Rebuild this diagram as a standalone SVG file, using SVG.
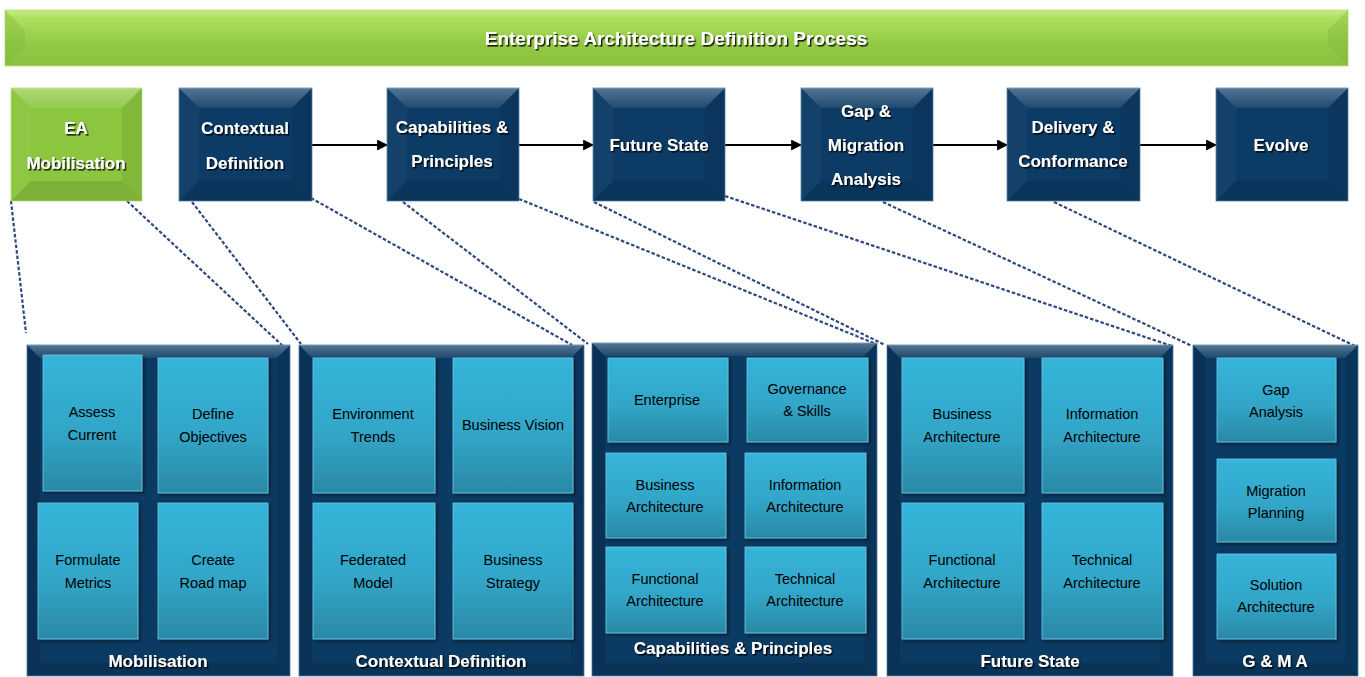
<svg xmlns="http://www.w3.org/2000/svg" width="1365" height="677" viewBox="0 0 1365 677">
<defs>
<linearGradient id="gBar" x1="0" y1="0" x2="0" y2="1">
<stop offset="0" stop-color="#c4ec86"/>
<stop offset="0.15" stop-color="#ace05e"/>
<stop offset="0.6" stop-color="#94c945"/>
<stop offset="1" stop-color="#8bc13f"/>
</linearGradient>
<linearGradient id="gTop" x1="0" y1="0" x2="0" y2="1">
<stop offset="0" stop-color="#ffffff" stop-opacity="0.3"/>
<stop offset="1" stop-color="#ffffff" stop-opacity="0.08"/>
</linearGradient>
<linearGradient id="gTile" x1="0" y1="0" x2="0" y2="1">
<stop offset="0" stop-color="#37b4da"/>
<stop offset="0.55" stop-color="#31a6c8"/>
<stop offset="1" stop-color="#2b89a6"/>
</linearGradient>
<filter id="ts" x="-10%" y="-30%" width="120%" height="160%">
<feDropShadow dx="1.4" dy="1.6" stdDeviation="0.7" flood-color="#000" flood-opacity="0.85"/>
</filter>
<filter id="sh" x="-10%" y="-10%" width="125%" height="125%">
<feDropShadow dx="2" dy="2" stdDeviation="1.5" flood-color="#000" flood-opacity="0.45"/>
</filter>
<marker id="arr" viewBox="0 0 10 10" refX="9" refY="5" markerWidth="5.5" markerHeight="5.5" orient="auto" markerUnits="strokeWidth">
<path d="M0,0 L10,5 L0,10 z" fill="#000"/>
</marker>
</defs>
<style>
.blue{fill:#0c3b65;stroke:#5c86ad;stroke-width:0.8}
.green{fill:#8cc63f;stroke:#b9e27c;stroke-width:0.8}
.bt{fill:url(#gTop)}
.bl{fill:#ffffff;fill-opacity:0.03}
.br{fill:#000000;fill-opacity:0.07}
.bb{fill:#000000;fill-opacity:0.1}
.pl{fill:#000000;fill-opacity:0.12}
.panel{fill:#0b3a62;stroke:#5582ab;stroke-width:0.8}
.tile{fill:url(#gTile);stroke:#6bc9e4;stroke-width:0.8;filter:url(#sh)}
.wt{font-family:"Liberation Sans",Arial,sans-serif;font-weight:bold;fill:#ffffff;text-anchor:middle;filter:url(#ts)}
.tt{font-size:17px}
.pt{font-size:17px}
.it{font-family:"Liberation Sans",Arial,sans-serif;font-size:14.5px;fill:#000000;text-anchor:middle}
.dash{fill:none;stroke:#2e4a7d;stroke-width:2.2;stroke-dasharray:3.5 2}
.arrow{fill:none;stroke:#000;stroke-width:2;marker-end:url(#arr)}
</style>

<g id="title-bar">
<rect x="5" y="10" width="1343" height="56" fill="url(#gBar)" stroke="#b4e070" stroke-width="0.8"/>
<polygon points="5,10 25,30 25,46 5,66" fill="#7fb53a" fill-opacity="0.35"/>
<polygon points="1348,10 1328,30 1328,46 1348,66" fill="#7fb53a" fill-opacity="0.35"/>
<text class="wt" x="676" y="45" font-size="19">Enterprise Architecture Definition Process</text>
</g>

<g id="connectors">
<line class="arrow" x1="312" y1="145" x2="387" y2="145"/>
<line class="arrow" x1="519" y1="145" x2="593" y2="145"/>
<line class="arrow" x1="725" y1="145" x2="801" y2="145"/>
<line class="arrow" x1="933" y1="145" x2="1007" y2="145"/>
<line class="arrow" x1="1140" y1="145" x2="1216" y2="145"/>
<line class="dash" x1="11" y1="201" x2="26" y2="333"/>
<line class="dash" x1="127" y1="201" x2="284" y2="347"/>
<line class="dash" x1="192" y1="202" x2="301" y2="344"/>
<line class="dash" x1="311" y1="198" x2="572" y2="345"/>
<line class="dash" x1="403" y1="202" x2="588" y2="344"/>
<line class="dash" x1="519" y1="199" x2="876" y2="344"/>
<line class="dash" x1="594" y1="202" x2="885" y2="345"/>
<line class="dash" x1="725" y1="196" x2="1172" y2="346"/>
<line class="dash" x1="883" y1="202" x2="1192" y2="346"/>
<line class="dash" x1="1054" y1="202" x2="1355" y2="346"/>
</g>

<g id="ea-mobilisation">
<rect class="green" x="11" y="88" width="131" height="113"/>
<polygon class="bt" points="11,88 142,88 122,108 31,108"/>
<polygon class="bl" points="11,88 31,108 31,181 11,201"/>
<polygon class="br" points="142,88 142,201 122,181 122,108"/>
<polygon class="bb" points="11,201 142,201 122,181 31,181"/>
<text class="wt tt" x="76" y="134">EA</text>
<text class="wt tt" x="76" y="169">Mobilisation</text>
</g>

<g id="contextual-definition">
<rect class="blue" x="179" y="88" width="133" height="113"/>
<polygon class="bt" points="179,88 312,88 292,108 199,108"/>
<polygon class="bl" points="179,88 199,108 199,181 179,201"/>
<polygon class="br" points="312,88 312,201 292,181 292,108"/>
<polygon class="bb" points="179,201 312,201 292,181 199,181"/>
<text class="wt tt" x="245" y="134">Contextual</text>
<text class="wt tt" x="245" y="169">Definition</text>
</g>

<g id="capabilities-principles">
<rect class="blue" x="387" y="88" width="132" height="113"/>
<polygon class="bt" points="387,88 519,88 499,108 407,108"/>
<polygon class="bl" points="387,88 407,108 407,181 387,201"/>
<polygon class="br" points="519,88 519,201 499,181 499,108"/>
<polygon class="bb" points="387,201 519,201 499,181 407,181"/>
<text class="wt tt" x="452" y="133">Capabilities &amp;</text>
<text class="wt tt" x="452" y="167">Principles</text>
</g>

<g id="future-state">
<rect class="blue" x="593" y="88" width="132" height="113"/>
<polygon class="bt" points="593,88 725,88 705,108 613,108"/>
<polygon class="bl" points="593,88 613,108 613,181 593,201"/>
<polygon class="br" points="725,88 725,201 705,181 705,108"/>
<polygon class="bb" points="593,201 725,201 705,181 613,181"/>
<text class="wt tt" x="659" y="151">Future State</text>
</g>

<g id="gap-migration-analysis">
<rect class="blue" x="801" y="88" width="132" height="113"/>
<polygon class="bt" points="801,88 933,88 913,108 821,108"/>
<polygon class="bl" points="801,88 821,108 821,181 801,201"/>
<polygon class="br" points="933,88 933,201 913,181 913,108"/>
<polygon class="bb" points="801,201 933,201 913,181 821,181"/>
<text class="wt tt" x="866" y="117">Gap &amp;</text>
<text class="wt tt" x="866" y="151">Migration</text>
<text class="wt tt" x="866" y="185">Analysis</text>
</g>

<g id="delivery-conformance">
<rect class="blue" x="1007" y="88" width="133" height="113"/>
<polygon class="bt" points="1007,88 1140,88 1120,108 1027,108"/>
<polygon class="bl" points="1007,88 1027,108 1027,181 1007,201"/>
<polygon class="br" points="1140,88 1140,201 1120,181 1120,108"/>
<polygon class="bb" points="1007,201 1140,201 1120,181 1027,181"/>
<text class="wt tt" x="1073" y="133">Delivery &amp;</text>
<text class="wt tt" x="1073" y="167">Conformance</text>
</g>

<g id="evolve">
<rect class="blue" x="1216" y="88" width="132" height="113"/>
<polygon class="bt" points="1216,88 1348,88 1328,108 1236,108"/>
<polygon class="bl" points="1216,88 1236,108 1236,181 1216,201"/>
<polygon class="br" points="1348,88 1348,201 1328,181 1328,108"/>
<polygon class="bb" points="1216,201 1348,201 1328,181 1236,181"/>
<text class="wt tt" x="1281" y="151">Evolve</text>
</g>

<g id="panel-mobilisation">
<rect class="panel" x="27" y="345" width="263" height="331"/>
<polygon class="bt" points="27,345 290,345 277,358 40,358"/>
<polygon class="pl" points="27,345 40,358 40,663 27,676"/>
<polygon class="br" points="290,345 290,676 277,663 277,358"/>
<polygon class="bb" points="27,676 290,676 277,663 40,663"/>
<rect class="tile" x="43" y="355" width="99" height="136"/>
<rect class="tile" x="158" y="358" width="110" height="135"/>
<rect class="tile" x="38" y="503" width="100" height="136"/>
<rect class="tile" x="158" y="503" width="110" height="136"/>
<text class="it" x="92" y="417">Assess</text>
<text class="it" x="92" y="440">Current</text>
<text class="it" x="213" y="419">Define</text>
<text class="it" x="213" y="442">Objectives</text>
<text class="it" x="88" y="565">Formulate</text>
<text class="it" x="88" y="588">Metrics</text>
<text class="it" x="213" y="565">Create</text>
<text class="it" x="213" y="588">Road map</text>
<text class="wt pt" x="158" y="667">Mobilisation</text>
</g>

<g id="panel-contextual-definition">
<rect class="panel" x="299" y="345" width="285" height="331"/>
<polygon class="bt" points="299,345 584,345 571,358 312,358"/>
<polygon class="pl" points="299,345 312,358 312,663 299,676"/>
<polygon class="br" points="584,345 584,676 571,663 571,358"/>
<polygon class="bb" points="299,676 584,676 571,663 312,663"/>
<rect class="tile" x="313" y="358" width="122" height="135"/>
<rect class="tile" x="453" y="358" width="120" height="135"/>
<rect class="tile" x="313" y="503" width="122" height="136"/>
<rect class="tile" x="453" y="503" width="120" height="136"/>
<text class="it" x="373" y="419">Environment</text>
<text class="it" x="373" y="442">Trends</text>
<text class="it" x="513" y="430">Business Vision</text>
<text class="it" x="373" y="565">Federated</text>
<text class="it" x="373" y="588">Model</text>
<text class="it" x="513" y="565">Business</text>
<text class="it" x="513" y="588">Strategy</text>
<text class="wt pt" x="441" y="667">Contextual Definition</text>
</g>

<g id="panel-capabilities-principles">
<rect class="panel" x="592" y="343" width="285" height="333"/>
<polygon class="bt" points="592,343 877,343 864,356 605,356"/>
<polygon class="pl" points="592,343 605,356 605,663 592,676"/>
<polygon class="br" points="877,343 877,676 864,663 864,356"/>
<polygon class="bb" points="592,676 877,676 864,663 605,663"/>
<rect class="tile" x="608" y="358" width="120" height="84"/>
<rect class="tile" x="747" y="358" width="121" height="84"/>
<rect class="tile" x="606" y="453" width="120" height="85"/>
<rect class="tile" x="745" y="453" width="121" height="85"/>
<rect class="tile" x="606" y="547" width="120" height="86"/>
<rect class="tile" x="745" y="547" width="121" height="86"/>
<text class="it" x="667" y="405">Enterprise</text>
<text class="it" x="807" y="394">Governance</text>
<text class="it" x="807" y="416">&amp; Skills</text>
<text class="it" x="665" y="490">Business</text>
<text class="it" x="665" y="512">Architecture</text>
<text class="it" x="805" y="490">Information</text>
<text class="it" x="805" y="512">Architecture</text>
<text class="it" x="665" y="584">Functional</text>
<text class="it" x="665" y="606">Architecture</text>
<text class="it" x="805" y="584">Technical</text>
<text class="it" x="805" y="606">Architecture</text>
<text class="wt pt" x="733" y="654">Capabilities &amp; Principles</text>
</g>

<g id="panel-future-state">
<rect class="panel" x="887" y="345" width="286" height="331"/>
<polygon class="bt" points="887,345 1173,345 1160,358 900,358"/>
<polygon class="pl" points="887,345 900,358 900,663 887,676"/>
<polygon class="br" points="1173,345 1173,676 1160,663 1160,358"/>
<polygon class="bb" points="887,676 1173,676 1160,663 900,663"/>
<rect class="tile" x="902" y="358" width="122" height="135"/>
<rect class="tile" x="1042" y="358" width="121" height="135"/>
<rect class="tile" x="902" y="503" width="122" height="136"/>
<rect class="tile" x="1042" y="503" width="121" height="136"/>
<text class="it" x="962" y="419">Business</text>
<text class="it" x="962" y="442">Architecture</text>
<text class="it" x="1102" y="419">Information</text>
<text class="it" x="1102" y="442">Architecture</text>
<text class="it" x="962" y="565">Functional</text>
<text class="it" x="962" y="588">Architecture</text>
<text class="it" x="1102" y="565">Technical</text>
<text class="it" x="1102" y="588">Architecture</text>
<text class="wt pt" x="1030" y="667">Future State</text>
</g>

<g id="panel-gma">
<rect class="panel" x="1193" y="345" width="165" height="331"/>
<polygon class="bt" points="1193,345 1358,345 1345,358 1206,358"/>
<polygon class="pl" points="1193,345 1206,358 1206,663 1193,676"/>
<polygon class="br" points="1358,345 1358,676 1345,663 1345,358"/>
<polygon class="bb" points="1193,676 1358,676 1345,663 1206,663"/>
<rect class="tile" x="1217" y="358" width="119" height="84"/>
<rect class="tile" x="1217" y="459" width="119" height="83"/>
<rect class="tile" x="1217" y="554" width="119" height="85"/>
<text class="it" x="1276" y="395">Gap</text>
<text class="it" x="1276" y="417">Analysis</text>
<text class="it" x="1276" y="496">Migration</text>
<text class="it" x="1276" y="518">Planning</text>
<text class="it" x="1276" y="590">Solution</text>
<text class="it" x="1276" y="612">Architecture</text>
<text class="wt pt" x="1275" y="667">G &amp; M A</text>
</g>
</svg>
